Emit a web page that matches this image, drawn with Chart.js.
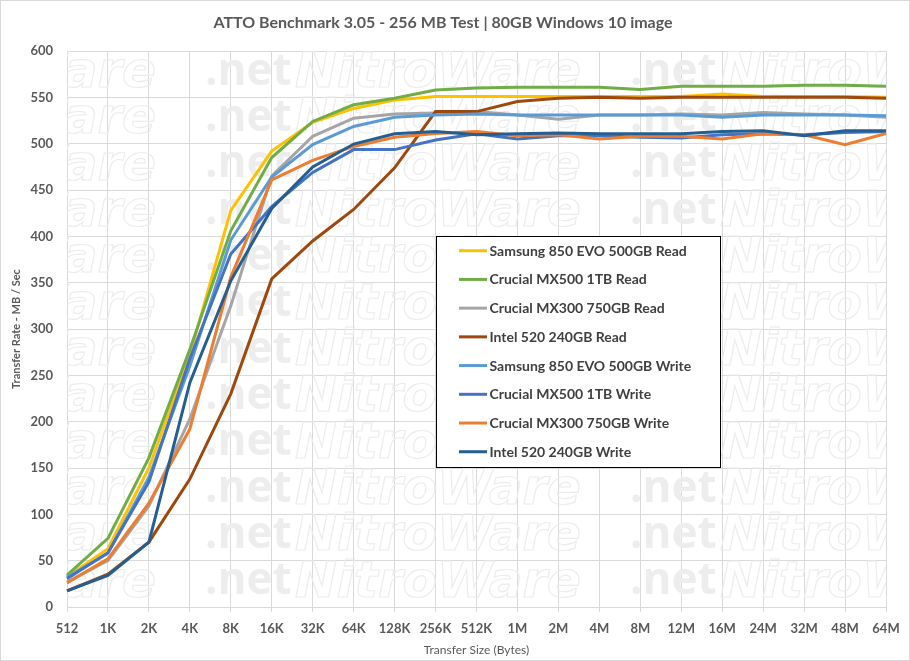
<!DOCTYPE html>
<html>
<head>
<meta charset="utf-8">
<script src="https://cdn.jsdelivr.net/npm/chart.js@4.4.1/dist/chart.umd.min.js"></script>
<style>
  html, body { margin: 0; padding: 0; background: #ffffff; }
  #wrap { width: 910px; height: 661px; }
</style>
</head>
<body>
<div id="wrap"><canvas id="c" width="910" height="661"></canvas></div>
<script>
// ---- Data ----
const categories = ['512','1K','2K','4K','8K','16K','32K','64K','128K','256K','512K','1M','2M','4M','8M','12M','16M','24M','32M','48M','64M'];

const samsungRead  = [32.7, 63, 150, 272, 428, 492, 523, 538, 547, 551, 551, 551, 551, 551, 551, 551, 553.5, 551, 551, 551, 550];
const mx500Read    = [34.5, 74, 161, 278, 406, 485, 524, 542, 549, 558, 560, 561, 561, 561, 558.5, 562, 562, 562, 563, 563, 562];
const mx300Read    = [27, 50, 109, 203, 325, 465, 508, 527.5, 532, 533, 534.6, 531, 526.4, 531, 531, 532, 531, 533.6, 532, 531, 528.6];
const intelRead    = [17.5, 35.5, 70, 138, 230, 354, 395, 429, 474, 534.6, 534.6, 545.4, 549, 550, 549, 550, 550, 550, 550, 550, 549];
const samsungWrite = [32, 58, 140, 260, 396, 464, 499, 518.6, 528.6, 531, 532, 531, 531, 531, 531, 531, 528.6, 531, 531, 531, 530];
const mx500Write   = [30.5, 58.5, 135, 268, 381, 432, 469, 493.6, 493.6, 504, 510.7, 505, 508.6, 508.6, 507, 506, 509.6, 510.7, 509.6, 512, 513];
const mx300Write   = [26, 52, 112, 192, 356, 461, 482, 497, 507, 511, 513, 508.6, 509.6, 505, 508, 508, 505, 510.7, 509.6, 499, 511];
const intelWrite   = [17.5, 34, 70, 242, 352, 430, 475, 499.6, 510.7, 513, 509.6, 510.7, 511.4, 510.7, 510.7, 510.7, 513, 514, 508.6, 514, 514];

const seriesNames = [
  'Samsung 850 EVO 500GB Read',
  'Crucial MX500 1TB Read',
  'Crucial MX300 750GB Read',
  'Intel 520 240GB Read',
  'Samsung 850 EVO 500GB Write',
  'Crucial MX500 1TB Write',
  'Crucial MX300 750GB Write',
  'Intel 520 240GB Write'
];
const seriesValues = [samsungRead, mx500Read, mx300Read, intelRead, samsungWrite, mx500Write, mx300Write, intelWrite];
const seriesColors = ['#FFC000', '#70AD47', '#A5A5A5', '#9E480E', '#5B9BD5', '#4472C4', '#ED7D31', '#255E91'];

const yTicks = { min: 0, max: 600, step: 50 };

const chartTitle = 'ATTO Benchmark 3.05 - 256 MB Test | 80GB Windows 10 image';
const xTitle = 'Transfer Size (Bytes)';
const yTitle = 'Transfer Rate - MB / Sec';
const watermarkWord = 'NitroWare';
const watermarkNet = '.net';

// ---- Plugins ----
const frameAndWatermark = {
  id: 'frameAndWatermark',
  beforeDraw(chart) {
    const ctx = chart.ctx;
    ctx.save();
    ctx.fillStyle = '#ffffff';
    ctx.fillRect(0, 0, chart.width, chart.height);
    ctx.strokeStyle = '#d9d9d9';
    ctx.lineWidth = 1;
    ctx.strokeRect(0.5, 0.5, chart.width - 1, chart.height - 1);
    ctx.restore();
  },
  beforeDatasetsDraw(chart) {
    const ctx = chart.ctx;
    const a = chart.chartArea;
    ctx.save();
    ctx.beginPath();
    ctx.rect(a.left, a.top, a.right - a.left, a.bottom - a.top);
    ctx.clip();
    ctx.textBaseline = 'middle';
    ctx.textAlign = 'left';
    const rowH = (a.bottom - a.top) / 12;
    for (let r = 0; r < 12; r++) {
      const y = a.top + rowH * (r + 0.5);
      for (let p = 0; p < 4; p++) {
        const x0 = -130 + 425 * p;
        ctx.font = 'italic bold 50px "DejaVu Sans"';
        ctx.strokeStyle = '#ececec';
        ctx.lineWidth = 1.2;
        ctx.strokeText(watermarkWord, x0, y);
        ctx.font = 'bold 44px "Open Sans"';
        ctx.fillStyle = '#ededed';
        ctx.fillText(watermarkNet, x0 + 335, y - 2);
      }
    }
    ctx.restore();
  }
};

const boxLegend = {
  id: 'boxLegend',
  afterDraw(chart) {
    const ctx = chart.ctx;
    const left = 436, top = 236, w = 284, h = 231;
    ctx.save();
    ctx.fillStyle = '#ffffff';
    ctx.fillRect(left, top, w, h);
    ctx.strokeStyle = '#000000';
    ctx.lineWidth = 1;
    ctx.strokeRect(left + 0.5, top + 0.5, w, h);
    ctx.font = 'bold 14px Lato';
    ctx.textBaseline = 'middle';
    ctx.textAlign = 'left';
    chart.data.datasets.forEach((ds, i) => {
      const y = top + 14.7 + i * 28.72;
      ctx.strokeStyle = ds.borderColor;
      ctx.lineWidth = 3;
      ctx.beginPath();
      ctx.moveTo(459, y);
      ctx.lineTo(487, y);
      ctx.stroke();
      ctx.fillStyle = '#404040';
      ctx.fillText(ds.label, 489.5, y + 0.5);
    });
    ctx.restore();
  }
};

// ---- Chart ----
const datasets = seriesNames.map((name, i) => ({
  label: name,
  data: seriesValues[i],
  borderColor: seriesColors[i],
  backgroundColor: seriesColors[i],
  borderWidth: 3,
  pointRadius: 0,
  pointHoverRadius: 0,
  tension: 0,
  fill: false,
  order: seriesNames.length - i
}));

new Chart(document.getElementById('c'), {
  type: 'line',
  data: { labels: categories, datasets },
  options: {
    responsive: false,
    animation: false,
    devicePixelRatio: 1,
    layout: { padding: { left: 0, right: 24, top: 0, bottom: 0 } },
    plugins: {
      legend: { display: false },
      tooltip: { enabled: false },
      title: {
        display: true,
        text: chartTitle,
        color: '#595959',
        font: { family: 'Lato', size: 16, weight: 'bold' },
        padding: { top: 13.5, bottom: 18.3 }
      }
    },
    scales: {
      x: {
        type: 'category',
        offset: false,
        grid: { color: '#d9d9d9', lineWidth: 1, drawTicks: true, tickLength: 5, tickColor: '#d9d9d9' },
        border: { color: '#d9d9d9', width: 1 },
        ticks: {
          color: '#595959',
          font: { family: 'Lato', size: 13, weight: 'bold' },
          padding: 9,
          maxRotation: 0,
          autoSkip: false
        },
        title: {
          display: true,
          text: xTitle,
          color: '#595959',
          font: { family: 'Lato', size: 12 },
          padding: { top: 0, bottom: 4 }
        },
        afterFit(scale) { scale.height = 54; }
      },
      y: {
        min: yTicks.min,
        max: yTicks.max,
        grid: { color: '#d9d9d9', lineWidth: 1, drawTicks: false },
        border: { color: '#d9d9d9', width: 1 },
        ticks: {
          stepSize: yTicks.step,
          color: '#595959',
          font: { family: 'Lato', size: 13, weight: 'bold' },
          padding: 14
        },
        title: {
          display: true,
          text: yTitle,
          color: '#595959',
          font: { family: 'Lato', size: 11, weight: 'bold' },
          padding: { top: 10, bottom: 10 }
        },
        afterFit(scale) { scale.width = 67; }
      }
    }
  },
  plugins: [frameAndWatermark, boxLegend]
});
</script>
</body>
</html>
